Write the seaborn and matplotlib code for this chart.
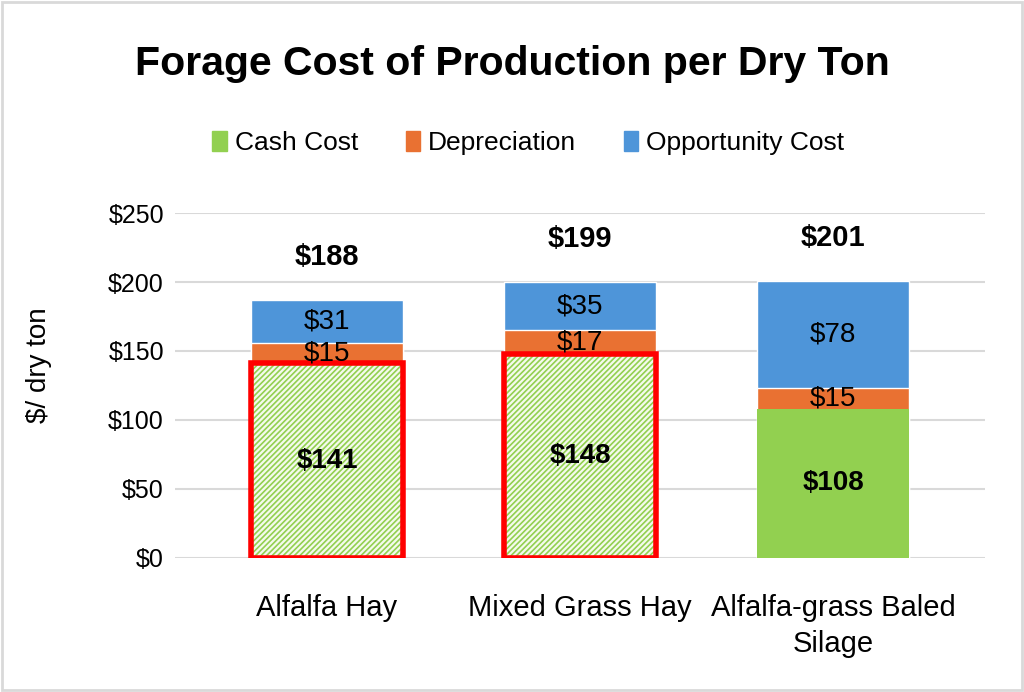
import numpy as np
import matplotlib
matplotlib.use("Agg")
import matplotlib.pyplot as plt
from matplotlib.patches import Rectangle, Patch
import seaborn as sns

# data
categories = ["Alfalfa Hay", "Mixed Grass Hay", "Alfalfa-grass Baled\nSilage"]
cash_cost = [141, 148, 108]
depreciation = [15, 17, 15]
opportunity = [31, 35, 78]
total_labels = [188, 199, 201]
hatched = [True, True, False]

GREEN = "#92D050"
ORANGE = "#E97132"
BLUE = "#4E95D9"

sns.set_style("white")
plt.rcParams["font.family"] = ["Liberation Sans", "DejaVu Sans"]
plt.rcParams["text.color"] = "black"
plt.rcParams["axes.labelcolor"] = "black"
plt.rcParams["xtick.color"] = "black"
plt.rcParams["ytick.color"] = "black"
plt.rcParams["hatch.linewidth"] = 1.2

fig = plt.figure(figsize=(10.24, 6.92), dpi=100)
ax = fig.add_axes([0.171, 0.194, 0.791, 0.498])

cum_dep = np.add(cash_cost, depreciation)
cum_top = cum_dep + np.array(opportunity)

w = 0.6
# layered bars: draw the full stack first, then cover with lower segments
sns.barplot(x=categories, y=cum_top, color=BLUE, saturation=1, width=w, ax=ax)
sns.barplot(x=categories, y=cum_dep, color=ORANGE, saturation=1, width=w, ax=ax)
sns.barplot(x=categories, y=cash_cost, color=GREEN, saturation=1, width=w, ax=ax)

green_bars = ax.patches[6:9]
for p, h in zip(green_bars, hatched):
    p.set_linewidth(0)
    if h:
        p.set_facecolor("#F4FAEC")
        p.set_edgecolor(GREEN)
        p.set_hatch("//////")
        ax.add_patch(Rectangle((p.get_x(), 0), p.get_width(), p.get_height(),
                               fill=False, edgecolor="#FF0000", linewidth=4, zorder=5))

# segment labels
for i in range(len(categories)):
    ax.text(i, cash_cost[i] / 2, f"${cash_cost[i]}", ha="center", va="center",
            fontsize=20, fontweight="bold", zorder=6)
    ax.text(i, cash_cost[i] + depreciation[i] / 2, f"${depreciation[i]}", ha="center",
            va="center", fontsize=20, zorder=6)
    ax.text(i, cum_dep[i] + opportunity[i] / 2, f"${opportunity[i]}", ha="center",
            va="center", fontsize=20, zorder=6)
    ax.text(i, cum_top[i] + 31, f"${total_labels[i]}", ha="center", va="center",
            fontsize=21, fontweight="bold")

ax.set_ylim(0, 250)
ax.set_xlim(-0.6, 2.6)
ax.set_yticks(np.arange(0, 251, 50))
ax.set_yticklabels([f"${v}" for v in range(0, 251, 50)], fontsize=18)
ax.tick_params(axis="x", labelsize=21, length=0, pad=26)
for lbl in ax.get_xticklabels():
    lbl.set_linespacing(1.35)
ax.tick_params(axis="y", length=0, pad=8)
ax.set_ylabel("$/ dry ton", fontsize=20)
ax.yaxis.set_label_coords(-0.152, 0.56)
ax.grid(axis="y", color="#D9D9D9", linewidth=1.5)
ax.set_axisbelow(True)
for s in ax.spines.values():
    s.set_visible(False)

fig.suptitle("Forage Cost of Production per Dry Ton", fontsize=29.5, fontweight="bold", y=0.935)

handles = [Patch(color=GREEN), Patch(color=ORANGE), Patch(color=BLUE)]
fig.legend(handles, ["Cash Cost", "Depreciation", "Opportunity Cost"], loc="center",
           bbox_to_anchor=(0.516, 0.793), ncol=3, frameon=False, fontsize=19,
           handlelength=0.55, handleheight=0.75, handletextpad=0.3, columnspacing=1.8)

fig.add_artist(Rectangle((0.002, 0.003), 0.996, 0.994, transform=fig.transFigure,
                         fill=False, edgecolor="#D9D9D9", linewidth=2))

fig.savefig("out.png", dpi=100)
